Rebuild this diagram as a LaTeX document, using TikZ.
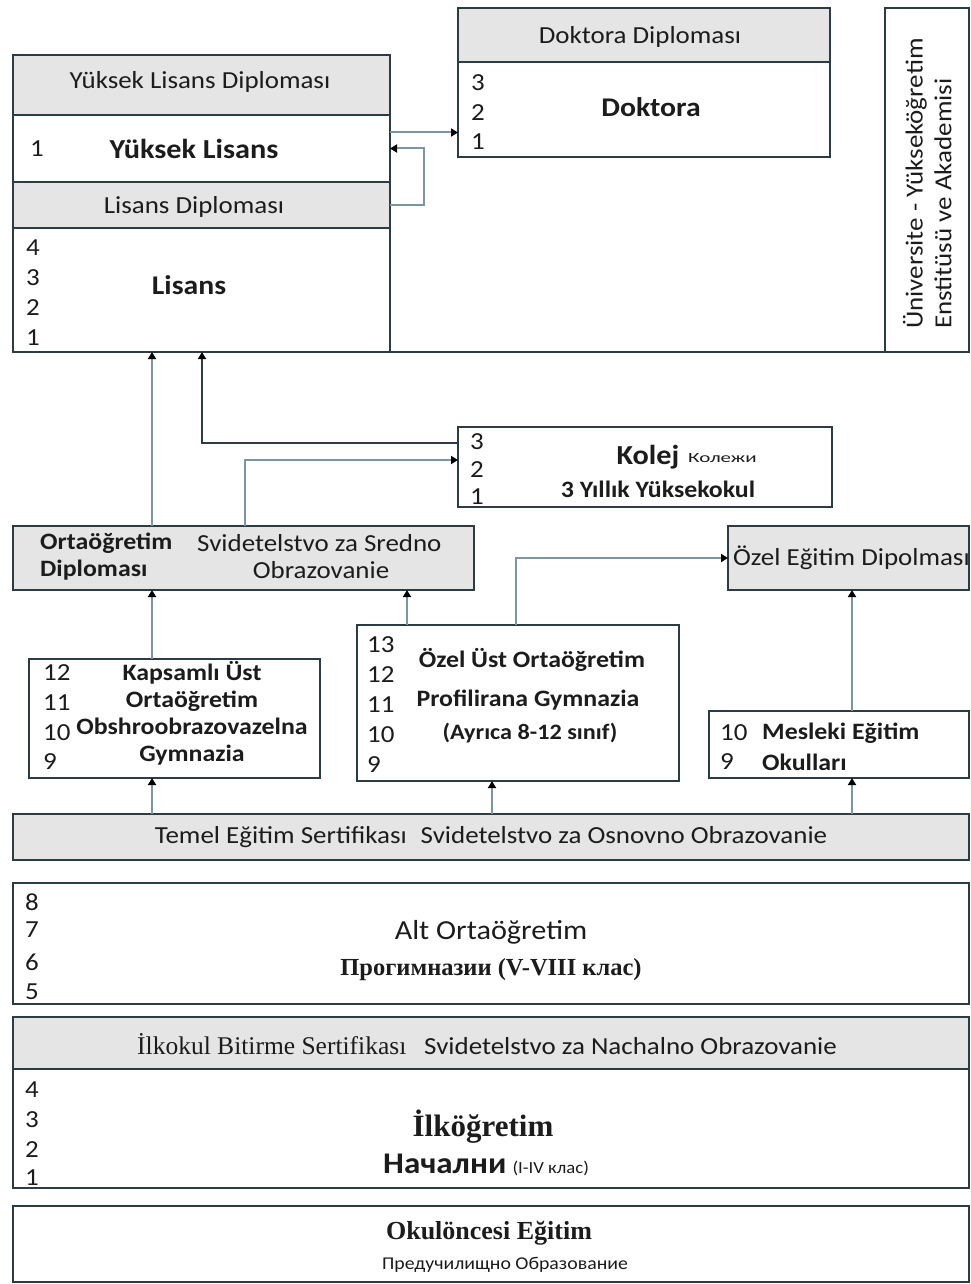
\documentclass[tikz,border=0pt]{standalone}
\usepackage{fontspec}
\setmainfont{Carlito}[FakeStretch=1.1]
\newfontfamily\serifr{Liberation Serif}
\newfontfamily\cwide{Carlito}[FakeStretch=1.5]
\usetikzlibrary{fit,arrows.meta}

\definecolor{bord}{HTML}{2C3C44}
\definecolor{gfill}{HTML}{E5E5E5}
\definecolor{conn}{HTML}{7A96A5}
\definecolor{ink}{HTML}{1C1C1C}

\tikzset{
  box/.style={draw=bord, line width=2pt, fill=white, inner sep=0pt, outer sep=0pt},
  gbox/.style={box, fill=gfill},
  t/.style={inner sep=0pt, text=ink, font=\fontsize{24.5}{28}\selectfont},
  tb/.style={inner sep=0pt, text=ink, font=\fontsize{23.5}{28}\selectfont\bfseries},
  cn/.style={draw=conn, line width=2pt, -{Triangle[length=7pt,width=8pt,color=black]}},
  dk/.style={draw=bord, line width=1.6pt, -{Triangle[length=7pt,width=8pt,color=black]}},
  edge/.style={draw=bord, line width=2pt},
}

\begin{document}
\begin{tikzpicture}[x=1pt,y=-1pt]
\useasboundingbox (0,0) rectangle (971,1284);
\clip (0,0) rectangle (971,1284);

% ---------- boxes ----------
\node[gbox, fit={(13,55) (390,115)}] (ylhead) {};
\node[box, fit={(13,115) (390,182)}] (yl) {};
\node[gbox, fit={(13,182) (390,228)}] (ldip) {};
\node[box, fit={(13,228) (390,352)}] (lis) {};
\node[gbox, fit={(458,8) (830,62)}] (dokhead) {};
\node[box, fit={(458,62) (830,157)}] (dok) {};
\node[box, fit={(885,8) (969,352)}] (uni) {};
\draw[edge] (lis.south east) -- (uni.south west);

\node[box, fit={(458,427) (832,507)}] (kolej) {};
\node[gbox, fit={(13,526) (474,590)}] (orta) {};
\node[gbox, fit={(728,526) (969,590)}] (ozdip) {};
\node[box, fit={(357,625) (679,781)}] (ozel) {};
\node[box, fit={(29,659) (320,778)}] (kaps) {};
\node[box, fit={(709,711) (969,778)}] (mes) {};
\node[gbox, fit={(13,814) (969,860)}] (temel) {};
\node[box, fit={(13,883) (969,1004)}] (alt) {};
\node[gbox, fit={(13,1017) (969,1069)}] (ilkdip) {};
\node[box, fit={(13,1069) (969,1188)}] (ilk) {};
\node[box, fit={(13,1206) (969,1282)}] (okul) {};

% ---------- connector helpers ----------
\coordinate (cA) at (152,0);
\coordinate (cB) at (202,0);
\coordinate (cC) at (245,0);
\coordinate (cD) at (407,0);
\coordinate (cE) at (516,0);
\coordinate (cF) at (852,0);
\coordinate (cG) at (492,0);
\coordinate (ylr) at ([yshift=16pt]yl.east);
\coordinate (k3) at ([yshift=24pt]kolej.west);
\coordinate (k2) at ([yshift=7pt]kolej.west);

% ---------- connectors ----------
\draw[cn] (ylr) -- (ylr -| dok.west);
\draw[cn] (ldip.east) -- ++(34,0) |- (yl.east);
\draw[cn] (orta.north -| cA) -- (lis.south -| cA);
\draw[dk] (k3) -| (lis.south -| cB);
\draw[cn] (orta.north -| cC) |- (k2);
\draw[cn] (kaps.north -| cA) -- (orta.south -| cA);
\draw[cn] (ozel.north -| cD) -- (orta.south -| cD);
\draw[cn] (ozel.north -| cE) |- (ozdip.west);
\draw[cn] (mes.north -| cF) -- (ozdip.south -| cF);
\draw[cn] (temel.north -| cA) -- (kaps.south -| cA);
\draw[cn] (temel.north -| cG) -- (ozel.south -| cG);
\draw[cn] (temel.north -| cF) -- (mes.south -| cF);

% ---------- texts: top ----------
\node[t] (ylheadt) at (200,82) {Yüksek Lisans Diploması};
\node[tb, font=\fontsize{27.5}{30}\selectfont\bfseries] (ylt) at (194,149) {Yüksek Lisans};
\node[t] (yln) at (37,149) {1};
\node[t] (ldipt) at (194,207) {Lisans Diploması};
\node[tb, font=\fontsize{27}{30}\selectfont\bfseries] (list) at (189,285) {Lisans};
\foreach \n/\y in {4/248,3/278,2/308,1/338} \node[t] (lisn\n) at (33,\y) {\n};

\node[t] (dokheadt) at (640,37) {Doktora Diploması};
\node[tb, font=\fontsize{27}{30}\selectfont\bfseries] (dokt) at (651,107) {Doktora};
\foreach \n/\y in {3/83,2/113,1/142} \node[t] (dokn\n) at (478,\y) {\n};

\node[t, rotate=90, anchor=west] (unit1) at (915,329) {Üniversite - Yükseköğretim};
\node[t, rotate=90, anchor=west] (unit2) at (943,329) {Enstitüsü ve Akademisi};

% ---------- Kolej ----------
\node[tb, font=\fontsize{27.5}{30}\selectfont\bfseries] (kolejt) at (648,457) {Kolej};
\node[t, anchor=west, font=\cwide\fontsize{14}{16}\selectfont] (kolejr) at (688,458) {Колежи};
\node[tb] (kolejt2) at (658,489) {3 Yıllık Yüksekokul};
\foreach \n/\y in {3/442,2/470,1/497} \node[t] (koln\n) at (477,\y) {\n};

% ---------- Orta diploma ----------
\node[tb, anchor=west] (ortat1) at (40,543) {Ortaöğretim};
\node[tb, anchor=west] (ortat2) at (40,570) {Diploması};
\node[t, anchor=west] (ortat3) at (197,543) {Svidetelstvo za Sredno};
\node[t] (ortat4) at (321,570) {Obrazovanie};

\node[t, anchor=west] (ozdipt) at (733,558) {Özel Eğitim Dipolması};

% ---------- Kapsamli ----------
\foreach \n/\y in {12/673,11/703,10/733,9/762} \node[t, anchor=west] (kapsn\n) at (43,\y) {\n};
\node[tb] (kapst1) at (192,673) {Kapsamlı Üst};
\node[tb] (kapst2) at (192,701) {Ortaöğretim};
\node[tb] (kapst3) at (192,726) {Obshroobrazovazelna};
\node[tb] (kapst4) at (192,755) {Gymnazia};

% ---------- Ozel ust ----------
\foreach \n/\y in {13/645,12/675,11/705,10/735,9/765} \node[t, anchor=west] (ozeln\n) at (367,\y) {\n};
\node[tb] (ozelt1) at (532,660) {Özel Üst Ortaöğretim};
\node[tb] (ozelt2) at (528,700) {Profilirana Gymnazia};
\node[tb, font=\fontsize{22}{26}\selectfont\bfseries] (ozelt3) at (530,733) {(Ayrıca 8-12 sınıf)};

% ---------- Mesleki ----------
\node[t, anchor=west] (mesn10) at (720,733) {10};
\node[t, anchor=west] (mesn9) at (720,762) {9};
\node[tb, anchor=west] (mest1) at (762,733) {Mesleki Eğitim};
\node[tb, anchor=west] (mest2) at (762,762) {Okulları};

% ---------- bottom ----------
\node[t] (temelt) at (491,837) {Temel Eğitim Sertifikası\hspace{14pt}Svidetelstvo za Osnovno Obrazovanie};

\foreach \n/\y in {8/902,7/930,6/962,5/992} \node[t, anchor=west] (altn\n) at (25,\y) {\n};
\node[t, font=\fontsize{27.5}{30}\selectfont] (altt1) at (491,932) {Alt Ortaöğretim};
\node[t, font=\serifr\bfseries\fontsize{24.5}{28}\selectfont] (altt2) at (491,970) {Прогимназии (V-VIII клас)};

\node[t, anchor=base west, font=\serifr\fontsize{25.5}{28}\selectfont] (ilkdipt1) at (137,1054) {İlkokul Bitirme Sertifikası};
\node[t, anchor=base west] (ilkdipt2) at (424,1054) {Svidetelstvo za Nachalno Obrazovanie};

\foreach \n/\y in {4/1090,3/1120,2/1150,1/1178} \node[t, anchor=west] (ilkn\n) at (25,\y) {\n};
\node[t, font=\serifr\bfseries\fontsize{31}{34}\selectfont] (ilkt1) at (483,1127) {İlköğretim};
\node[t, anchor=base west] (ilkt2) at (383,1173) {{\fontsize{30}{32}\selectfont\bfseries Начални} {\fontsize{17}{20}\selectfont(I-IV клас)}};

\node[t, font=\serifr\bfseries\fontsize{26}{28}\selectfont] (okult1) at (489,1233) {Okulöncesi Eğitim};
\node[t, font=\fontsize{18}{20}\selectfont] (okult2) at (505,1265) {Предучилищно Образование};
\end{tikzpicture}
\end{document}
